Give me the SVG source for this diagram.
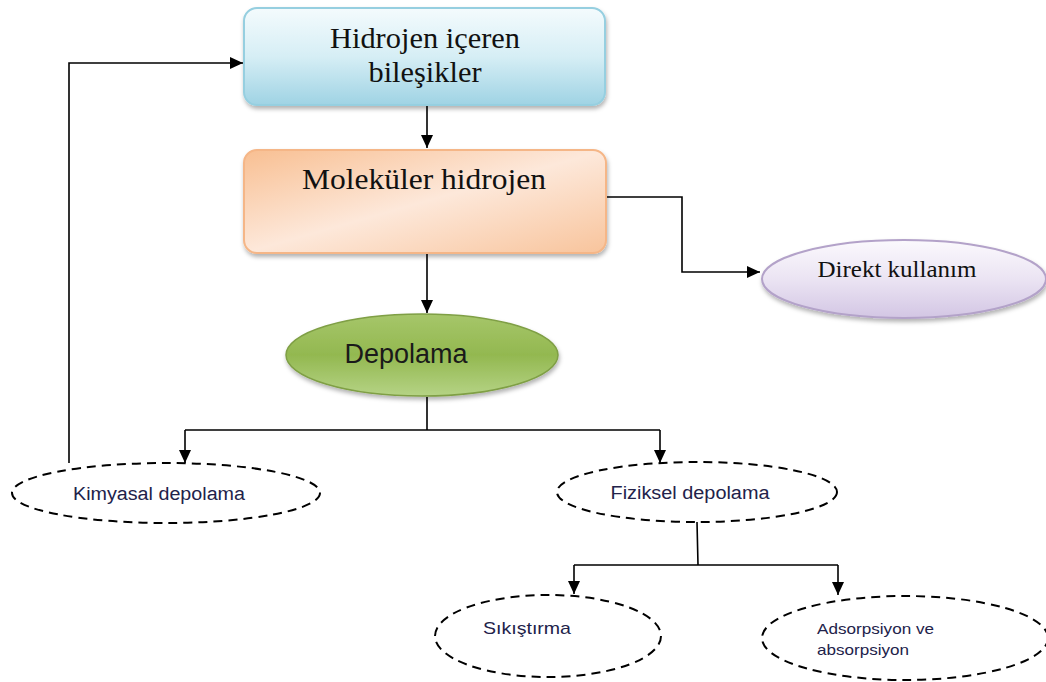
<svg xmlns="http://www.w3.org/2000/svg" width="1046" height="682" viewBox="0 0 1046 682">
<defs>
<linearGradient id="gBlue" x1="0" y1="0" x2="0" y2="1">
<stop offset="0" stop-color="#f4fbfd"/><stop offset="0.5" stop-color="#d6eef5"/><stop offset="1" stop-color="#9fd3e4"/>
</linearGradient>
<linearGradient id="gPeach" x1="0" y1="0" x2="1" y2="1">
<stop offset="0" stop-color="#f8bf92"/><stop offset="0.5" stop-color="#fde8da"/><stop offset="1" stop-color="#f8c49c"/>
</linearGradient>
<linearGradient id="gGreen" x1="0" y1="0" x2="0" y2="1">
<stop offset="0" stop-color="#a6c66a"/><stop offset="0.5" stop-color="#93b850"/><stop offset="1" stop-color="#b5d385"/>
</linearGradient>
<linearGradient id="gPurple" x1="0" y1="0" x2="0" y2="1">
<stop offset="0" stop-color="#fbf9fd"/><stop offset="0.5" stop-color="#ebe4f3"/><stop offset="1" stop-color="#d3c6e4"/>
</linearGradient>
<marker id="arr" markerWidth="14" markerHeight="14" refX="13" refY="7" orient="auto" markerUnits="userSpaceOnUse">
<path d="M0,1 L13,7 L0,13 Z" fill="#000"/>
</marker>
<filter id="sh" x="-10%" y="-10%" width="120%" height="130%">
<feDropShadow dx="1" dy="3" stdDeviation="2" flood-color="#000" flood-opacity="0.3"/>
</filter>
</defs>
<style>
.serif{font-family:"Liberation Serif","Times New Roman",serif;fill:#111;}
.sans{font-family:"Liberation Sans",Arial,sans-serif;fill:#22224a;}
.dash{fill:#fff;stroke:#000;stroke-width:2;stroke-dasharray:9,6;}
.conn{fill:none;stroke:#000;stroke-width:1.6;}
</style>
<g id="connectors">
<path class="conn" d="M427,105 L427,148" marker-end="url(#arr)"/>
<path class="conn" d="M427,253 L427,313" marker-end="url(#arr)"/>
<path class="conn" d="M606,197 L682,197 L682,272 L760,272" marker-end="url(#arr)"/>
<path class="conn" d="M427,397 L427,430 M185,430 L660,430"/>
<path class="conn" d="M185,430 L185,463" marker-end="url(#arr)"/>
<path class="conn" d="M660,430 L660,463" marker-end="url(#arr)"/>
<path class="conn" d="M69,463 L69,63 L243,63" marker-end="url(#arr)"/>
<path class="conn" d="M697,522 L698,565 M574,565 L838,565"/>
<path class="conn" d="M574,565 L574,594" marker-end="url(#arr)"/>
<path class="conn" d="M838,565 L838,595" marker-end="url(#arr)"/>
</g>
<g id="n-hidrojen">
<rect x="244" y="8" width="361" height="97" rx="13" fill="url(#gBlue)" stroke="#96cfe0" stroke-width="2" filter="url(#sh)"/>
<text class="serif" x="425" y="48" font-size="29" text-anchor="middle" textLength="190" lengthAdjust="spacingAndGlyphs">Hidrojen içeren</text>
<text class="serif" x="425" y="82" font-size="29" text-anchor="middle" textLength="113" lengthAdjust="spacingAndGlyphs">bileşikler</text>
</g>
<g id="n-molekuler">
<rect x="244" y="150" width="362" height="103" rx="13" fill="url(#gPeach)" stroke="#f5b687" stroke-width="2" filter="url(#sh)"/>
<text class="serif" x="424" y="189" font-size="30" text-anchor="middle" textLength="244" lengthAdjust="spacingAndGlyphs">Moleküler hidrojen</text>
</g>
<g id="n-direkt">
<ellipse cx="904" cy="279" rx="142" ry="39" fill="url(#gPurple)" stroke="#b3a2c9" stroke-width="2" filter="url(#sh)"/>
<text class="serif" x="897" y="277" font-size="24" text-anchor="middle" textLength="159" lengthAdjust="spacingAndGlyphs">Direkt kullanım</text>
</g>
<g id="n-depolama">
<ellipse cx="422" cy="355" rx="136" ry="41" fill="url(#gGreen)" stroke="#7f9f45" stroke-width="1.5" filter="url(#sh)"/>
<text class="sans" x="406" y="363" font-size="27" text-anchor="middle" style="fill:#1a1a1a">Depolama</text>
</g>
<g id="n-kimyasal">
<ellipse class="dash" cx="166" cy="493" rx="154" ry="30"/>
<text class="sans" x="159" y="500" font-size="18" text-anchor="middle" textLength="172" lengthAdjust="spacingAndGlyphs">Kimyasal depolama</text>
</g>
<g id="n-fiziksel">
<ellipse class="dash" cx="697" cy="492" rx="140" ry="30"/>
<text class="sans" x="690" y="499" font-size="18" text-anchor="middle" textLength="159" lengthAdjust="spacingAndGlyphs">Fiziksel depolama</text>
</g>
<g id="n-sikistirma">
<ellipse class="dash" cx="548" cy="636" rx="113" ry="41"/>
<text class="sans" x="483" y="634" font-size="17" textLength="88" lengthAdjust="spacingAndGlyphs">Sıkıştırma</text>
</g>
<g id="n-adsorpsiyon">
<ellipse class="dash" cx="905" cy="638" rx="143" ry="42"/>
<text class="sans" x="817" y="634" font-size="15" textLength="117" lengthAdjust="spacingAndGlyphs">Adsorpsiyon ve</text>
<text class="sans" x="817" y="655" font-size="15" textLength="92" lengthAdjust="spacingAndGlyphs">absorpsiyon</text>
</g>
</svg>
